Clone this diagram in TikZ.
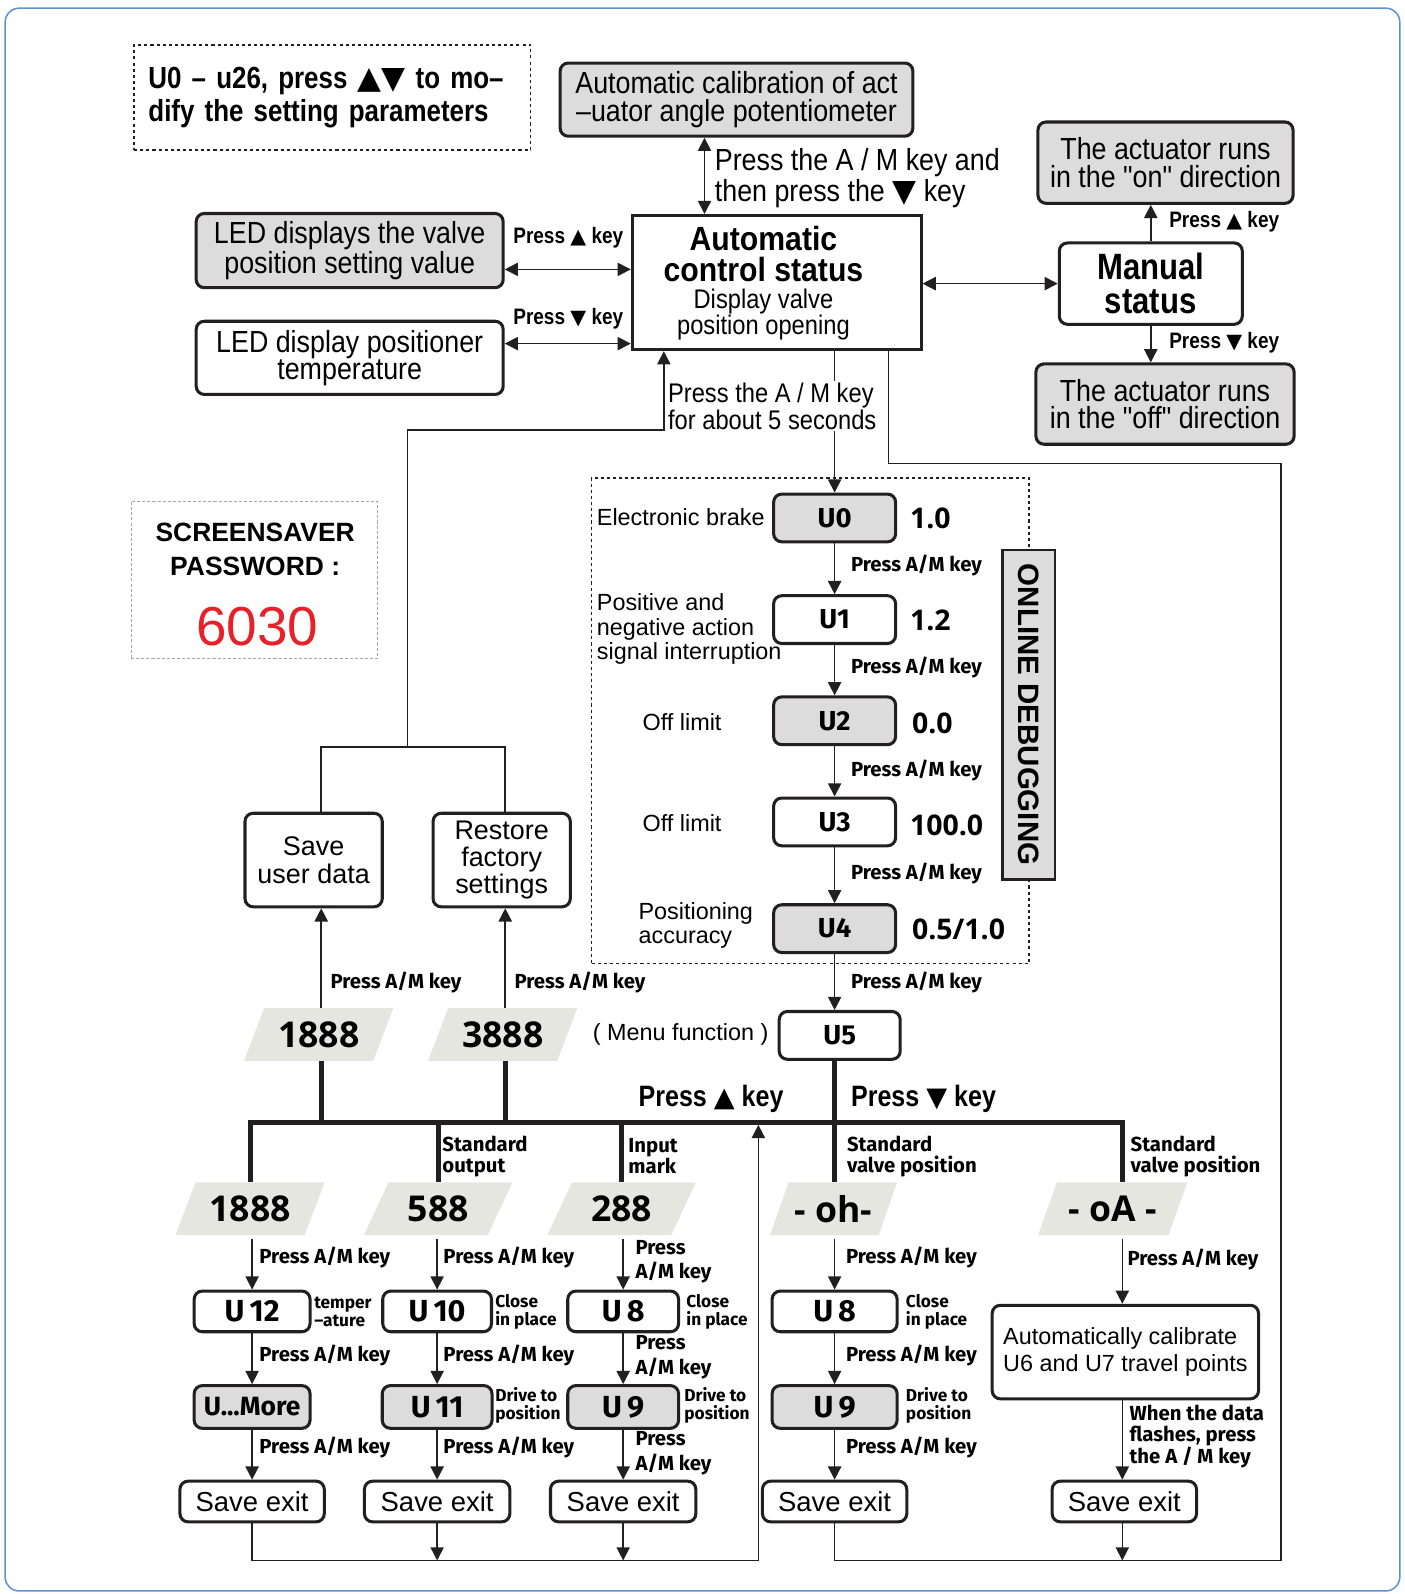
\documentclass[tikz,border=0pt]{standalone}
\usepackage{fontspec}
\setmainfont{Liberation Sans}
\newfontfamily\fhv{Liberation Sans}
\newfontfamily\fhn{Liberation Sans}[FakeStretch=0.88]
\newfontfamily\fbc{Liberation Sans}[FakeStretch=0.85]
\newfontfamily\fbw{Liberation Sans}[FakeStretch=0.9]
\newfontfamily\fdin{Fira Sans}
\newfontfamily\fos{Open Sans}
\newfontfamily\fsym{DejaVu Sans}
\usetikzlibrary{arrows.meta,shapes.geometric}
\definecolor{ink}{HTML}{231F20}
\definecolor{boxgray}{HTML}{DCDCDC}
\definecolor{paragray}{HTML}{E6E6E1}
\definecolor{framec}{HTML}{5E92D0}
\definecolor{pwred}{HTML}{E8202A}
\newcommand\fz[2]{\fontsize{#1}{#2}\selectfont}
\newcommand\tup{{\fsym\scalebox{0.92}{▲}}}
\newcommand\tdn{{\fsym\scalebox{0.92}{▼}}}
\newcommand\tupb{{\fsym\scalebox{1.02}{▲}}}
\newcommand\tdnb{{\fsym\scalebox{1.02}{▼}}}
\begin{document}
\begin{tikzpicture}[x=1pt,y=-1pt,
  >={Triangle[length=13pt,width=13pt]},
  ln/.style={draw=ink,line width=1.6pt},
  arr/.style={ln,->},
  darr/.style={ln,<->},
  rbox/.style={draw=ink,line width=3pt,rounded corners=8pt,inner sep=0pt,align=center,fill=white},
  gbox/.style={rbox,fill=boxgray},
  para/.style={trapezium,trapezium left angle=60,trapezium right angle=120,trapezium stretches=true,fill=paragray,inner sep=0pt,minimum height=52pt,minimum width=147pt,font=\fos\bfseries\fz{35}{35}},
  lbl/.style={inner sep=0pt,anchor=west,align=left},
  amk/.style={lbl,font=\fdin\bfseries\fz{20}{24}},
  sml/.style={lbl,font=\fdin\bfseries\fz{17}{17}},
  bus/.style={draw=ink,line width=5pt},
  ulab/.style={font=\fdin\bfseries\fz{27}{27}},
  ulabb/.style={font=\fdin\bfseries\fz{30}{30}},
  val/.style={lbl,font=\fos\bfseries\fz{28}{28}},
  savebox/.style={rbox,minimum width=142pt,minimum height=40pt,font=\fhv\fz{27}{27}},
  narrowtxt/.style={font=\fhn\fz{30}{27}},
  regtxt/.style={lbl,font=\fhv\fz{23}{24}},
  keylbl/.style={font=\fbc\bfseries\fz{22}{22},inner sep=0pt}]
\useasboundingbox (0,0) rectangle (1382,1568);
\draw[framec,line width=1.5pt,rounded corners=14pt] (5,8) rectangle (1377,1565);

% helper coordinates
\coordinate (X316) at (316,0);
\coordinate (X497) at (497,0);
\coordinate (X693) at (693,0);
\coordinate (X821) at (821,0);
\coordinate (X1104) at (1104,0);
\coordinate (Y265) at (0,265);
\coordinate (Y338) at (0,338);
\coordinate (J1) at (401,735);
\coordinate (J2) at (653,423);
\coordinate (R1) at (1260,1535);
\coordinate (R2) at (874,456);
\coordinate (L1) at (746,1535);
\coordinate (B1) at (246,1104);
\coordinate (B2) at (1104,1104);

% top-left note
\node[draw=ink,line width=1.5pt,dash pattern=on 3pt off 3pt,minimum width=390pt,minimum height=103pt,text width=362pt,align=left,inner sep=0pt,font=\fbc\bfseries\fz{30}{32}] (note) at (327,96) {U0 – u26, press \tupb\tdnb\ to mo–\\dify the setting parameters};

% calibration and auto status
\node[gbox,minimum width=347pt,minimum height=72pt,narrowtxt] (cal) at (724.5,98) {Automatic calibration of act\\–uator angle potentiometer};
\node[draw=ink,line width=3pt,fill=white,minimum width=284pt,minimum height=132pt] (auto) at (764,278) {};
\node[align=center,inner sep=0pt,font=\fbw\bfseries\fz{33}{31}] (autot) at (751,250) {Automatic\\control status};
\node[align=center,inner sep=0pt,font=\fhn\fz{26.5}{24}] (autos) at (751,309) {Display valve\\position opening};
\draw[darr] (cal.south -| X693) -- (auto.north -| X693);
\node[lbl,font=\fhn\fz{30}{31}] (lab1) at (703,175) {Press the A / M key and\\then press the \tdnb\ key};

% LED boxes
\node[gbox,minimum width=302pt,minimum height=73pt,narrowtxt] (led1) at (344,246.5) {LED displays the valve\\position setting value};
\node[rbox,minimum width=302pt,minimum height=72pt,narrowtxt] (led2) at (344,352) {LED display positioner\\temperature};
\draw[darr] (led1.east |- Y265) -- (auto.west |- Y265);
\draw[darr] (led2.east |- Y338) -- (auto.west |- Y338);
\node[keylbl] (pu1) at (559,234) {Press \tup\ key};
\node[keylbl] (pd1) at (559,314) {Press \tdn\ key};

% manual
\node[rbox,minimum width=180pt,minimum height=80pt,font=\fbc\bfseries\fz{36}{33}] (man) at (1132,279) {Manual\\status};
\draw[darr] (auto.east |- man) -- (man.west);
\node[gbox,minimum width=251pt,minimum height=80pt,narrowtxt] (on) at (1146.5,160) {The actuator runs\\in the "on" direction};
\node[gbox,minimum width=254pt,minimum height=79pt,narrowtxt] (off) at (1146,397.5) {The actuator runs\\in the "off" direction};
\draw[arr] (man.north) -- (man.north |- on.south);
\draw[arr] (man.south) -- (man.south |- off.north);
\node[keylbl,anchor=west] (pu2) at (1150,218) {Press \tup\ key};
\node[keylbl,anchor=west] (pd2) at (1150,337) {Press \tdn\ key};

% screensaver
\node[draw=gray!70,line width=1pt,dash pattern=on 3pt off 2pt,minimum width=242pt,minimum height=155pt] (ss) at (250,570.5) {};
\node[font=\fhv\bfseries\fz{26}{33},align=center,inner sep=0pt] (sst) at (251,540.5) {SCREENSAVER\\PASSWORD :};
\node[font=\fhv\fz{54}{54},text=pwred,inner sep=0pt] (pw) at (253,616) {6030};

% online debugging area
\node[draw=ink,line width=1.5pt,dash pattern=on 3pt off 3pt,minimum width=430pt,minimum height=478pt] (dbg) at (797,709) {};
\node[gbox,minimum width=120pt,minimum height=47pt,ulab] (U0) at (821,509.5) {U0};
\node[rbox,minimum width=120pt,minimum height=47pt,ulab] (U1) at (821,609.5) {U1};
\node[gbox,minimum width=120pt,minimum height=47pt,ulab] (U2) at (821,709) {U2};
\node[rbox,minimum width=120pt,minimum height=47pt,ulab] (U3) at (821,808.5) {U3};
\node[gbox,minimum width=120pt,minimum height=47pt,ulab] (U4) at (821,913.5) {U4};
\node[rbox,minimum width=119pt,minimum height=47pt,ulab] (U5) at (826,1018.5) {U5};
\draw[arr] (U0) -- (U1);
\draw[arr] (U1) -- (U2);
\draw[arr] (U2) -- (U3);
\draw[arr] (U3) -- (U4);
\draw[arr] (U4.south) -- (U4.south |- U5.north);
\node[amk] at (837,556) {Press A/M key};
\node[amk] at (837,657) {Press A/M key};
\node[amk] at (837,758) {Press A/M key};
\node[amk] at (837,859) {Press A/M key};
\node[amk] at (837,966) {Press A/M key};
\node[val] at (895,510) {1.0};
\node[val] at (895,610) {1.2};
\node[val] at (897,712) {0.0};
\node[val] at (895,812) {100.0};
\node[val] at (897,914) {0.5/1.0};
\node[regtxt] at (587,509) {Electronic brake};
\node[regtxt] at (587,619) {Positive and\\negative action\\signal interruption};
\node[regtxt] at (632,710) {Off limit};
\node[regtxt] at (632,810) {Off limit};
\node[regtxt] at (628,910.5) {Positioning\\accuracy};
\node[draw=ink,line width=2.5pt,fill=boxgray,minimum width=52pt,minimum height=324pt] (onl) at (1012,703) {};
\node[rotate=-90,font=\fhv\bfseries\fz{29}{29},inner sep=0pt] at (onl) {ONLINE DEBUGGING};

% connections from auto status
\draw[arr] (auto.south -| X821) -- (U0.north -| X821);
\draw[arr] (J1) |- (J2) -- (auto.south -| J2);
\node[lbl,fill=white,inner sep=1pt,font=\fhn\fz{26.5}{27}] (lab5) at (656,399.5) {Press the A / M key\\for about 5 seconds};

% save / restore
\node[rbox,minimum width=135pt,minimum height=92pt,font=\fhv\fz{26.5}{27}] (save) at (308.5,846) {Save\\user data};
\node[rbox,minimum width=135pt,minimum height=92pt,font=\fhv\fz{26.5}{27}] (rest) at (493.5,846) {Restore\\factory\\settings};
\draw[ln] (save.north -| X316) -- (X316 |- J1) -- (X497 |- J1) -- (rest.north -| X497);

% menu paras
\node[para] (p1) at (313.5,1017.5) {1888};
\node[para] (p2) at (494.5,1017.5) {3888};
\draw[arr] (p1.north -| X316) -- (save.south -| X316);
\draw[arr] (p2.north -| X497) -- (rest.south -| X497);
\node[amk] at (325,966) {Press A/M key};
\node[amk] at (506,966) {Press A/M key};
\node[regtxt] at (583,1018) {( Menu function )};

% second row paras
\node[para] (q1) at (246,1189) {1888};
\node[para] (q2) at (431,1189) {588};
\node[para] (q3) at (611.5,1189) {288};
\node[para,minimum width=125pt] (q4) at (820,1189) {- oh-};
\node[para] (q5) at (1094.5,1189) {- oA -};

% bus
\draw[bus] (p1.south -| X316) -- (X316 |- B1);
\draw[bus] (p2.south -| X497) -- (X497 |- B1);
\draw[bus] (U5.south -| X821) -- (X821 |- B1);
\draw[bus,line join=miter] (q1.north -| B1) |- (B2) -- (q5.north -| B2);
\draw[bus] (q2.north |- B1) -- (q2.north);
\draw[bus] (q3.north |- B1) -- (q3.north);
\draw[bus] (q4.north -| X821) -- (X821 |- B1);
\node[lbl,font=\fbc\bfseries\fz{29}{29}] at (628,1081) {Press \tup\ key};
\node[lbl,font=\fbc\bfseries\fz{29}{29}] at (837,1081) {Press \tdn\ key};
\node[lbl,font=\fdin\bfseries\fz{20}{21}] at (435,1137.5) {Standard\\output};
\node[lbl,font=\fdin\bfseries\fz{20}{21}] at (618,1137.5) {Input\\mark};
\node[lbl,font=\fdin\bfseries\fz{20}{21}] at (833,1137.5) {Standard\\valve position};
\node[lbl,font=\fdin\bfseries\fz{20}{21}] at (1112,1137.5) {Standard\\valve position};

% column 1
\node[rbox,minimum width=114pt,minimum height=40pt,ulabb] (u12) at (248,1290) {U\,12};
\node[gbox,minimum width=114pt,minimum height=42pt,font=\fdin\bfseries\fz{26}{26}] (umore) at (248,1384) {U...More};
\node[savebox] (s1) at (248,1477) {Save exit};
\draw[arr,shorten <=4pt] (q1.south -| u12) -- (u12);
\draw[arr] (u12) -- (umore);
\draw[arr] (umore) -- (s1);
\node[amk] at (255,1237) {Press A/M key};
\node[amk] at (255,1333) {Press A/M key};
\node[amk] at (255,1424) {Press A/M key};
\node[sml] at (309,1290.5) {temper\\–ature};

% column 2
\node[rbox,minimum width=107pt,minimum height=40pt,ulabb] (u10) at (430,1290) {U\,10};
\node[gbox,minimum width=108pt,minimum height=42pt,ulabb] (u11) at (430,1384) {U\,11};
\node[savebox,minimum width=143pt] (s2) at (430,1477) {Save exit};
\draw[arr,shorten <=4pt] (q2.south -| u10) -- (u10);
\draw[arr] (u10) -- (u11);
\draw[arr] (u11) -- (s2);
\node[amk] at (436,1237) {Press A/M key};
\node[amk] at (436,1333) {Press A/M key};
\node[amk] at (436,1424) {Press A/M key};
\node[sml] at (487,1290.5) {Close\\in place};
\node[sml] at (487,1382.5) {Drive to\\position};

% column 3
\node[rbox,minimum width=109pt,minimum height=40pt,ulabb] (u8) at (613,1290) {U\,8};
\node[gbox,minimum width=109pt,minimum height=42pt,ulabb] (u9) at (613,1384) {U\,9};
\node[savebox,minimum width=143pt] (s3) at (613,1477) {Save exit};
\draw[arr,shorten <=4pt] (q3.south -| u8) -- (u8);
\draw[arr] (u8) -- (u9);
\draw[arr] (u9) -- (s3);
\node[amk] at (625,1241) {Press\\A/M key};
\node[amk] at (625,1335) {Press\\A/M key};
\node[amk] at (625,1429.5) {Press\\A/M key};
\node[sml] at (675,1290.5) {Close\\in place};
\node[sml] at (673,1382.5) {Drive to\\position};

% column 4
\node[rbox,minimum width=123pt,minimum height=40pt,ulabb] (u8b) at (821,1290) {U\,8};
\node[gbox,minimum width=123pt,minimum height=42pt,ulabb] (u9b) at (821,1384) {U\,9};
\node[savebox] (s4) at (821,1477) {Save exit};
\draw[arr,shorten <=4pt] (q4.south -| u8b) -- (u8b);
\draw[arr] (u8b) -- (u9b);
\draw[arr] (u9b) -- (s4);
\node[amk] at (832,1237) {Press A/M key};
\node[amk] at (832,1333) {Press A/M key};
\node[amk] at (832,1424) {Press A/M key};
\node[sml] at (891,1290.5) {Close\\in place};
\node[sml] at (891,1382.5) {Drive to\\position};

% column 5
\node[rbox,minimum width=262pt,minimum height=92pt,font=\fhv\fz{23}{27},align=left] (acal) at (1107,1330) {Automatically calibrate\\U6 and U7 travel points};
\node[savebox] (s5) at (1106,1477) {Save exit};
\draw[arr,shorten <=4pt] (q5.south -| X1104) -- (acal.north -| X1104);
\draw[arr] (acal.south -| X1104) -- (s5.north -| X1104);
\node[amk] at (1109,1239) {Press A/M key};
\node[lbl,font=\fdin\bfseries\fz{20}{20}] at (1111,1413) {When the data\\flashes, press\\the A / M key};

% return lines
\draw[ln] (s4.south) |- (R1) |- (R2) -- (auto.south -| R2);
\draw[arr] (s5.south -| X1104) -- (X1104 |- R1);
\draw[arr,shorten >=2.5pt] (s1.south) |- (L1) -- (L1 |- B1);
\draw[arr] (s2.south) -- (s2.south |- L1);
\draw[arr] (s3.south) -- (s3.south |- L1);
\end{tikzpicture}
\end{document}
